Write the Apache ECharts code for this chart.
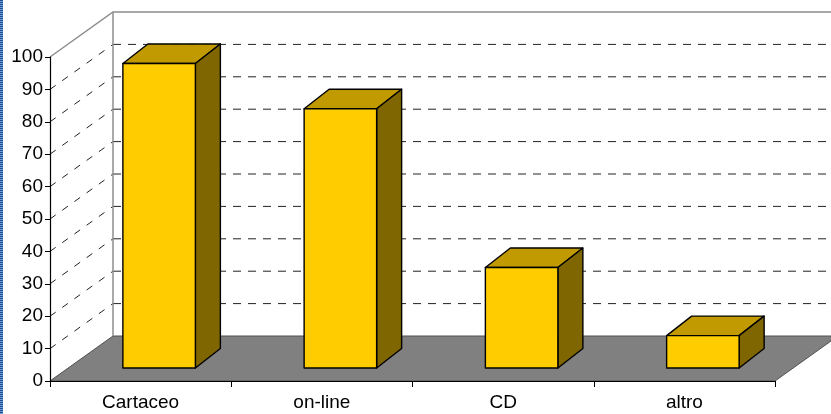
<!DOCTYPE html>
<html>
<head>
<meta charset="utf-8">
<script src="https://cdn.jsdelivr.net/npm/echarts@6/dist/echarts.min.js"></script>
<style>
  html, body { margin: 0; padding: 0; background: #fff; }
  #chart { width: 831px; height: 414px; }
</style>
</head>
<body>
<div id="chart"></div>
<script>
// Categories and values
const categories = ['Cartaceo', 'on-line', 'CD', 'altro'];
const values = [94, 80, 31, 10];
const yTicks = [0, 10, 20, 30, 40, 50, 60, 70, 80, 90, 100];

// Oblique projection of the 3D box (pixels)
const ROOM_DEPTH = [63, -45];   // front plane -> back wall
const BAR_FRONT = [18.5, -13];  // front plane -> bar front face
const BAR_DEPTH = [25, -19.5];  // bar front face -> bar back face
const BAR_WIDTH = 0.4;          // share of the category band

const FONT = '"Liberation Sans", Arial, sans-serif';

const chart = echarts.init(document.getElementById('chart'), null, { renderer: 'canvas' });

// Walls, floor and the dashed gridlines of the 3D room
function renderRoom(params, api) {
  const cs = params.coordSys;
  const x0 = cs.x, x1 = cs.x + cs.width;
  const [dx, dy] = ROOM_DEPTH;
  const yOf = v => api.coord([0, v])[1];
  const yMin = yOf(yTicks[0]);
  const yMax = yOf(yTicks[yTicks.length - 1]);
  const children = [];

  // side wall
  children.push({
    type: 'polygon',
    shape: { points: [[x0, yMax], [x0 + dx, yMax + dy], [x0 + dx, yMin + dy], [x0, yMin]] },
    style: { fill: '#ffffff', stroke: null }
  });
  // back wall
  children.push({
    type: 'polygon',
    shape: { points: [[x0 + dx, yMax + dy], [x1 + dx, yMax + dy], [x1 + dx, yMin + dy], [x0 + dx, yMin + dy]] },
    style: { fill: '#ffffff', stroke: null }
  });
  // floor
  children.push({
    type: 'polygon',
    shape: { points: [[x0, yMin], [x1, yMin], [x1 + dx, yMin + dy], [x0 + dx, yMin + dy]] },
    style: { fill: '#808080', stroke: '#505050', lineWidth: 1 }
  });

  // dashed gridlines on the side and back walls
  yTicks.slice(1, -1).forEach(v => {
    const y = yOf(v);
    children.push({
      type: 'line',
      shape: { x1: x0, y1: y, x2: x0 + dx, y2: y + dy },
      style: { stroke: '#222', lineWidth: 1, lineDash: [7, 8] }
    });
    children.push({
      type: 'line',
      shape: { x1: x0 + dx, y1: y + dy, x2: x1 + dx, y2: y + dy },
      style: { stroke: '#222', lineWidth: 1, lineDash: [8, 7] }
    });
  });

  // wall edges
  children.push({
    type: 'polyline',
    shape: { points: [[x0, yMax], [x0 + dx, yMax + dy], [x1 + dx, yMax + dy]] },
    style: { stroke: '#8c8c8c', lineWidth: 1.5, fill: null }
  });
  children.push({
    type: 'line',
    shape: { x1: x0 + dx, y1: yMax + dy, x2: x0 + dx, y2: yMin + dy },
    style: { stroke: '#8c8c8c', lineWidth: 1.5 }
  });

  return { type: 'group', children };
}

// One 3D column per category
function renderBar(params, api) {
  const idx = api.value(0);
  const base = api.coord([idx, 0]);
  const top = api.coord([idx, api.value(1)]);
  const band = api.size([1, 0])[0];
  const w = band * BAR_WIDTH;
  const L = base[0] - w / 2 + BAR_FRONT[0];
  const R = L + w;
  const T = top[1] + BAR_FRONT[1];
  const B = base[1] + BAR_FRONT[1];
  const [bx, by] = BAR_DEPTH;
  const edge = { stroke: '#000', lineWidth: 1.4, lineJoin: 'round' };
  return {
    type: 'group',
    children: [
      {
        type: 'polygon',
        shape: { points: [[L, T], [R, T], [R + bx, T + by], [L + bx, T + by]] },
        style: Object.assign({ fill: '#C09A00' }, edge)
      },
      {
        type: 'polygon',
        shape: { points: [[R, T], [R + bx, T + by], [R + bx, B + by], [R, B]] },
        style: Object.assign({ fill: '#806600' }, edge)
      },
      {
        type: 'rect',
        shape: { x: L, y: T, width: w, height: B - T },
        style: Object.assign({ fill: '#FFCC00' }, edge)
      }
    ]
  };
}

const option = {
  animation: false,
  backgroundColor: '#ffffff',
  grid: { left: 50, right: 56, top: 57, bottom: 33, containLabel: false },
  xAxis: {
    type: 'category',
    data: categories,
    z: 10,
    axisLine: { show: true, lineStyle: { color: '#000', width: 1.2 } },
    axisTick: { show: true, length: 6, lineStyle: { color: '#000' } },
    axisLabel: { color: '#000', fontSize: 19, fontFamily: FONT, margin: 12 },
    splitLine: { show: false }
  },
  yAxis: {
    type: 'value',
    min: yTicks[0],
    max: yTicks[yTicks.length - 1],
    interval: yTicks[1] - yTicks[0],
    z: 10,
    axisLine: { show: true, lineStyle: { color: '#000', width: 1.2 } },
    axisTick: { show: true, length: 5, lineStyle: { color: '#000' } },
    axisLabel: { color: '#000', fontSize: 19, fontFamily: FONT, margin: 7 },
    splitLine: { show: false }
  },
  graphic: [
    {
      type: 'rect',
      left: 0, top: 0,
      shape: { x: 0, y: 0, width: 3, height: 414 },
      style: { fill: '#6f9bd2' },
      z: 100
    },
    {
      type: 'line',
      shape: { x1: 1.5, y1: 0, x2: 1.5, y2: 414 },
      style: { stroke: '#1d4f95', lineWidth: 3, lineDash: [1, 1] },
      z: 101
    }
  ],
  series: [
    {
      type: 'custom',
      name: 'room',
      z: 1,
      silent: true,
      data: [[0, 0]],
      renderItem: renderRoom
    },
    {
      type: 'custom',
      name: 'valori',
      z: 2,
      data: values.map((v, i) => [i, v]),
      encode: { x: 0, y: 1 },
      renderItem: renderBar
    }
  ]
};

chart.setOption(option);
</script>
</body>
</html>
